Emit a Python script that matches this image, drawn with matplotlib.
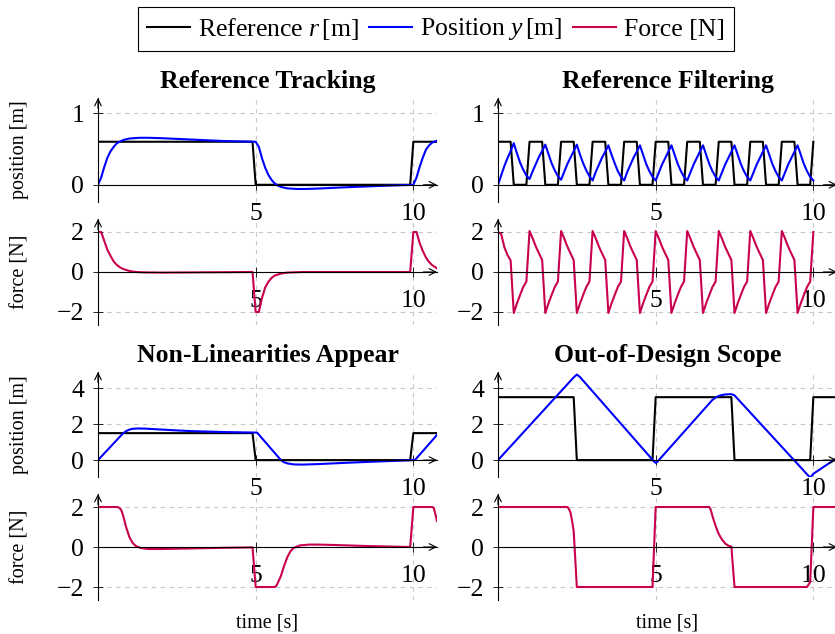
"""Controller benchmark figure: reference, position and actuator force for four scenarios."""
import matplotlib

matplotlib.use("Agg")  # headless
import matplotlib.pyplot as plt  # noqa: E402
from matplotlib.lines import Line2D  # noqa: E402

plt.rcParams["font.family"] = ["Liberation Serif", "DejaVu Serif"]
plt.rcParams["mathtext.fontset"] = "custom"
plt.rcParams["mathtext.rm"] = "Liberation Serif"
plt.rcParams["mathtext.it"] = "Liberation Serif:italic"

BLACK, BLUE, RED = "black", "#0000ff", "#c8004e"
GRID = "#c8c8c8"
W, H = 835, 634  # output size in pixels (dpi 100)

# ---- data ----
titles = ["Reference Tracking", "Reference Filtering",
          "Non-Linearities Appear", "Out-of-Design Scope"]
legend_labels = ["Reference $r\\,$[m]", "Position $y\\,$[m]", "Force [N]"]
x_ticks = [5, 10]
pos_ticks_top = [0, 1]
pos_ticks_bottom = [0, 2, 4]
force_ticks = [-2, 0, 2]

# Reference Tracking
track_ref_t = [0, 4.9, 5.0, 9.9, 10.0, 10.75]
track_ref = [0.6, 0.6, 0.0, 0.0, 0.6, 0.6]
track_pos_t = [0, 0.1, 0.2, 0.3, 0.4, 0.5, 0.6, 0.8, 1.0, 1.3, 1.6, 2.0, 2.5, 3.0, 3.5, 4.0, 4.5, 5.0,
               5.1, 5.2, 5.3, 5.4, 5.5, 5.6, 5.7, 5.8, 6.0, 6.3, 6.6, 7.0, 7.5, 8.0, 9.0, 10.0,
               10.1, 10.2, 10.3, 10.4, 10.5, 10.6, 10.75]
track_pos = [0.0, 0.1, 0.25, 0.38, 0.47, 0.53, 0.58, 0.625, 0.645, 0.655, 0.655, 0.65, 0.64, 0.63, 0.62,
             0.61, 0.605, 0.6,
             0.53, 0.37, 0.24, 0.14, 0.07, 0.02, -0.01, -0.03, -0.05, -0.058, -0.058, -0.052, -0.042,
             -0.032, -0.015, 0.0,
             0.1, 0.25, 0.38, 0.49, 0.55, 0.59, 0.615]
track_force_t = [0, 0.1, 0.2, 0.3, 0.4, 0.5, 0.6, 0.7, 0.8, 1.0, 1.2, 1.5, 2.0, 3.0, 4.0, 4.9,
                 5.0, 5.1, 5.2, 5.3, 5.4, 5.5, 5.6, 5.8, 6.0, 6.5, 7.0, 9.9,
                 10.0, 10.1, 10.2, 10.3, 10.4, 10.5, 10.6, 10.75]
track_force = [2.0, 2.0, 1.55, 1.1, 0.8, 0.52, 0.35, 0.23, 0.15, 0.05, 0.0, -0.02, -0.03, -0.02, -0.01, 0.0,
               -2.0, -2.0, -1.3, -0.78, -0.5, -0.3, -0.18, -0.08, -0.03, 0.0, 0.0, 0.0,
               2.0, 2.0, 1.45, 1.05, 0.72, 0.5, 0.34, 0.18]

# Reference Filtering (1 s square wave, sampled every 0.1 s)
filt_ref_t = [0, 0.4, 0.5, 0.9, 1.0, 1.4, 1.5, 1.9, 2.0, 2.4, 2.5, 2.9, 3.0, 3.4, 3.5, 3.9,
              4.0, 4.4, 4.5, 4.9, 5.0, 5.4, 5.5, 5.9, 6.0, 6.4, 6.5, 6.9, 7.0, 7.4, 7.5, 7.9,
              8.0, 8.4, 8.5, 8.9, 9.0, 9.4, 9.5, 9.9, 10.0]
filt_ref = [0.6, 0.6, 0, 0, 0.6, 0.6, 0, 0, 0.6, 0.6, 0, 0, 0.6, 0.6, 0, 0,
            0.6, 0.6, 0, 0, 0.6, 0.6, 0, 0, 0.6, 0.6, 0, 0, 0.6, 0.6, 0, 0,
            0.6, 0.6, 0, 0, 0.6, 0.6, 0, 0, 0.6]
filt_t = [0.0, 0.1, 0.2, 0.3, 0.4, 0.5, 0.6, 0.7, 0.8, 0.9,
          1.0, 1.1, 1.2, 1.3, 1.4, 1.5, 1.6, 1.7, 1.8, 1.9,
          2.0, 2.1, 2.2, 2.3, 2.4, 2.5, 2.6, 2.7, 2.8, 2.9,
          3.0, 3.1, 3.2, 3.3, 3.4, 3.5, 3.6, 3.7, 3.8, 3.9,
          4.0, 4.1, 4.2, 4.3, 4.4, 4.5, 4.6, 4.7, 4.8, 4.9,
          5.0, 5.1, 5.2, 5.3, 5.4, 5.5, 5.6, 5.7, 5.8, 5.9,
          6.0, 6.1, 6.2, 6.3, 6.4, 6.5, 6.6, 6.7, 6.8, 6.9,
          7.0, 7.1, 7.2, 7.3, 7.4, 7.5, 7.6, 7.7, 7.8, 7.9,
          8.0, 8.1, 8.2, 8.3, 8.4, 8.5, 8.6, 8.7, 8.8, 8.9,
          9.0, 9.1, 9.2, 9.3, 9.4, 9.5, 9.6, 9.7, 9.8, 9.9,
          10.0]
filt_pos = [0.00, 0.13, 0.26, 0.37, 0.47, 0.58, 0.44, 0.31, 0.21, 0.13,
            0.08, 0.19, 0.29, 0.39, 0.47, 0.56, 0.43, 0.30, 0.20, 0.12,
            0.07, 0.18, 0.29, 0.38, 0.47, 0.56, 0.42, 0.30, 0.20, 0.12,
            0.06, 0.18, 0.28, 0.38, 0.46, 0.55, 0.42, 0.30, 0.19, 0.11,
            0.06, 0.18, 0.28, 0.38, 0.46, 0.55, 0.42, 0.29, 0.19, 0.11,
            0.06, 0.17, 0.28, 0.37, 0.46, 0.55, 0.42, 0.29, 0.19, 0.11,
            0.06, 0.17, 0.28, 0.37, 0.46, 0.55, 0.42, 0.29, 0.19, 0.11,
            0.06, 0.17, 0.28, 0.37, 0.46, 0.55, 0.42, 0.29, 0.19, 0.11,
            0.06, 0.17, 0.28, 0.37, 0.46, 0.55, 0.42, 0.29, 0.19, 0.11,
            0.06, 0.17, 0.28, 0.37, 0.46, 0.55, 0.42, 0.29, 0.19, 0.11,
            0.06]
filt_force = [2.00, 1.90, 1.25, 0.85, 0.58, -2.05, -1.57, -1.15, -0.75, -0.48,
              2.05, 1.68, 1.27, 0.93, 0.60, -2.05, -1.57, -1.15, -0.75, -0.48,
              2.05, 1.68, 1.27, 0.93, 0.60, -2.05, -1.57, -1.15, -0.75, -0.48,
              2.05, 1.68, 1.27, 0.93, 0.60, -2.05, -1.57, -1.15, -0.75, -0.48,
              2.05, 1.68, 1.27, 0.93, 0.60, -2.05, -1.57, -1.15, -0.75, -0.48,
              2.05, 1.68, 1.27, 0.93, 0.60, -2.05, -1.57, -1.15, -0.75, -0.48,
              2.05, 1.68, 1.27, 0.93, 0.60, -2.05, -1.57, -1.15, -0.75, -0.48,
              2.05, 1.68, 1.27, 0.93, 0.60, -2.05, -1.57, -1.15, -0.75, -0.48,
              2.05, 1.68, 1.27, 0.93, 0.60, -2.05, -1.57, -1.15, -0.75, -0.48,
              2.05, 1.68, 1.27, 0.93, 0.60, -2.05, -1.57, -1.15, -0.75, -0.48,
              2.00]

# Non-Linearities Appear
nl_ref_t = [0, 4.9, 5.0, 9.9, 10.0, 10.75]
nl_ref = [1.5, 1.5, 0.0, 0.0, 1.5, 1.5]
nl_pos_t = [0, 0.8, 0.9, 1.0, 1.1, 1.25, 1.5, 2.0, 2.5, 3.0, 4.0, 5.0,
            5.05, 5.8, 5.9, 6.0, 6.2, 6.5, 7.0, 8.0, 9.0, 10.0,
            10.05, 10.75]
nl_pos = [0.0, 1.5, 1.62, 1.7, 1.74, 1.76, 1.75, 1.7, 1.65, 1.61, 1.56, 1.53,
          1.52, 0.0, -0.12, -0.18, -0.24, -0.25, -0.22, -0.14, -0.07, 0.0,
          0.0, 1.4]
nl_force_t = [0, 0.6, 0.65, 0.7, 0.75, 0.8, 0.9, 1.0, 1.1, 1.2, 1.35, 1.6, 2.0, 3.0, 4.0, 4.9,
              5.0, 5.6, 5.65, 5.7, 5.8, 5.9, 6.0, 6.1, 6.2, 6.4, 6.7, 7.0, 7.5, 8.5, 9.9,
              10.0, 10.6, 10.65, 10.75]
nl_force = [2.0, 2.0, 1.98, 1.93, 1.8, 1.55, 0.95, 0.48, 0.2, 0.05, -0.05, -0.1, -0.1, -0.07, -0.04, -0.02,
            -2.0, -2.0, -1.95, -1.8, -1.45, -0.95, -0.52, -0.22, -0.05, 0.08, 0.12, 0.12, 0.1, 0.05, 0.0,
            2.0, 2.0, 1.95, 1.3]

# Out-of-Design Scope
ood_ref_t = [0, 2.4, 2.5, 4.9, 5.0, 7.4, 7.5, 9.9, 10.0, 10.75]
ood_ref = [3.5, 3.5, 0.0, 0.0, 3.5, 3.5, 0.0, 0.0, 3.5, 3.5]
ood_pos_t = [0, 2.4, 2.5, 2.6, 4.95, 5.0, 5.05, 6.8, 6.9, 7.0, 7.1, 7.2, 7.4, 7.5, 9.9, 10.0, 10.75]
ood_pos = [0.0, 4.6, 4.76, 4.62, -0.08, -0.15, -0.1, 3.35, 3.48, 3.57, 3.62, 3.65, 3.67, 3.6, -0.98, -0.76, 0.12]
ood_force_t = [0, 2.2, 2.25, 2.3, 2.35, 2.4, 2.45, 2.5, 4.9, 5.0, 6.7, 6.75, 6.8, 6.9, 7.0, 7.1,
               7.2, 7.3, 7.4, 7.5, 9.8, 9.9, 10.0, 10.75]
ood_force = [2.0, 2.0, 1.9, 1.72, 1.3, 0.8, -0.6, -2.0, -2.0, 2.0, 2.0, 1.85, 1.55, 1.05, 0.65, 0.38,
             0.18, 0.07, 0.02, -2.0, -2.0, -1.75, 2.0, 2.0]

panels = [
    dict(title=titles[0], ref=(track_ref_t, track_ref), pos=(track_pos_t, track_pos),
         force=(track_force_t, track_force)),
    dict(title=titles[1], ref=(filt_ref_t, filt_ref), pos=(filt_t, filt_pos),
         force=(filt_t, filt_force)),
    dict(title=titles[2], ref=(nl_ref_t, nl_ref), pos=(nl_pos_t, nl_pos),
         force=(nl_force_t, nl_force)),
    dict(title=titles[3], ref=(ood_ref_t, ood_ref), pos=(ood_pos_t, ood_pos),
         force=(ood_force_t, ood_force)),
]

# ---- layout (pixel boxes measured on the original) ----
COL_X = [98, 498]
AX_W = 339
ROWS = [  # (pos top, pos bottom, force top, force bottom, pos ylim, pos ticks)
    (98, 202, 219, 325, (-0.24, 1.21), pos_ticks_top),
    (372, 477, 494, 600, (-0.94, 4.9), pos_ticks_bottom),
]
FORCE_YLIM = (-2.65, 2.65)
TICK_FS, TITLE_FS, LABEL_FS = 18.5, 18.5, 14.5
LW = 1.5

fig = plt.figure(figsize=(W / 100, H / 100), dpi=100)


def add_axes(x0, top, bottom):
    return fig.add_axes([x0 / W, 1 - bottom / H, AX_W / W, (bottom - top) / H])


def style(ax, ylim, yticks):
    ax.set_xlim(0, 10.75)
    ax.set_ylim(*ylim)
    ax.patch.set_visible(False)
    for side in ("top", "right"):
        ax.spines[side].set_visible(False)
    ax.spines["bottom"].set_position(("data", 0))
    ax.spines["left"].set_position(("data", 0))
    for side in ("bottom", "left"):
        ax.spines[side].set_linewidth(0.8)
    ax.set_xticks(x_ticks)
    ax.set_yticks(yticks)
    ax.tick_params(direction="inout", length=7, width=0.6, labelsize=TICK_FS)
    ax.tick_params(axis="x", pad=9.5)
    ax.tick_params(axis="y", pad=6.5)
    # dashed grid kept below the curves
    for v in yticks:
        ax.axhline(v, color=GRID, ls=(0, (4, 4)), lw=0.8, zorder=0.5)
    for v in x_ticks:
        ax.axvline(v, color=GRID, ls=(0, (4, 4)), lw=0.8, zorder=0.5)
    # arrow tips on both axis lines
    arrow = dict(arrowstyle="->", lw=0.8, color="k", shrinkA=0, shrinkB=0, mutation_scale=12)
    ax.annotate("", xy=(1.0, 0), xytext=(0.96, 0), xycoords=ax.get_yaxis_transform(),
                arrowprops=arrow, annotation_clip=False)
    ax.annotate("", xy=(0, 1.0), xytext=(0, 0.9), xycoords=ax.get_xaxis_transform(),
                arrowprops=arrow, annotation_clip=False)


for i, p in enumerate(panels):
    row, col = divmod(i, 2)
    pos_top, pos_bot, f_top, f_bot, pos_ylim, pos_ticks = ROWS[row]
    x0 = COL_X[col]

    ax_p = add_axes(x0, pos_top, pos_bot)
    style(ax_p, pos_ylim, pos_ticks)
    ax_p.plot(*p["ref"], color=BLACK, lw=LW)
    ax_p.plot(*p["pos"], color=BLUE, lw=LW)
    ax_p.set_title(p["title"], fontsize=TITLE_FS, fontweight="bold", pad=7)

    ax_f = add_axes(x0, f_top, f_bot)
    style(ax_f, FORCE_YLIM, force_ticks)
    ax_f.plot(*p["force"], color=RED, lw=LW)

    if col == 0:
        fig.text(20 / W, 1 - (pos_top + pos_bot) / 2 / H, "position [m]", rotation=90,
                 ha="center", va="center", fontsize=LABEL_FS)
        fig.text(20 / W, 1 - (f_top + f_bot) / 2 / H, "force [N]", rotation=90,
                 ha="center", va="center", fontsize=LABEL_FS)
    if row == 1:
        fig.text((x0 + 169) / W, 1 - 623 / H, "time [s]", ha="center", va="center",
                 fontsize=LABEL_FS)

handles = [Line2D([], [], color=c, lw=LW) for c in (BLACK, BLUE, RED)]
leg = fig.legend(handles, legend_labels, loc="center", bbox_to_anchor=(436 / W, 1 - 29 / H),
                 ncol=3, frameon=True, fancybox=False, edgecolor="k", framealpha=1,
                 fontsize=TICK_FS, handlelength=1.67, handletextpad=0.31, columnspacing=0.39,
                 borderpad=0.35, borderaxespad=0)
leg.get_frame().set_linewidth(0.8)

fig.savefig("out.png", dpi=100)
